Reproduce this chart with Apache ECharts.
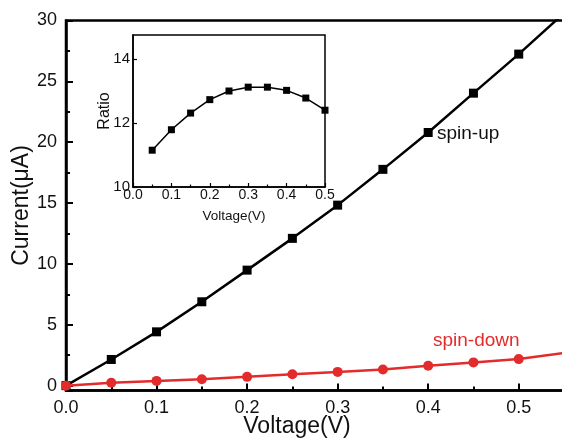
<!DOCTYPE html>
<html><head><meta charset="utf-8">
<script src="https://cdn.jsdelivr.net/npm/echarts@6/dist/echarts.min.js"></script>
<style>html,body{margin:0;padding:0;background:#fff}#c{width:562px;height:440px}</style>
</head><body><div id="c"></div>
<script>
// Main panel data
const voltage = [0, 0.05, 0.10, 0.15, 0.20, 0.25, 0.30, 0.35, 0.40, 0.45, 0.50];
const spinUp = [0, 2.15, 4.42, 6.89, 9.49, 12.1, 14.83, 17.77, 20.8, 24.03, 27.24];
const spinDown = [0, 0.23, 0.39, 0.53, 0.72, 0.94, 1.13, 1.33, 1.63, 1.91, 2.18];
// line continuation beyond last marker
const extVoltage = 0.55;
const spinUpEnd = 30.6;
const spinDownEnd = 2.68;
// Inset data
const insetVoltage = [0.05, 0.10, 0.15, 0.20, 0.25, 0.30, 0.35, 0.40, 0.45, 0.50];
const ratio = [11.15, 11.79, 12.31, 12.73, 13.0, 13.12, 13.12, 13.02, 12.78, 12.4];

const FONT = 'Liberation Sans, Arial, Helvetica, sans-serif';
const RED = '#e42b2b';

const upData = voltage.map((v, i) => [v, spinUp[i]]);
upData.push({ value: [extVoltage, spinUpEnd], symbol: 'none' });
const downData = voltage.map((v, i) => [v, spinDown[i]]);
downData.push({ value: [extVoltage, spinDownEnd], symbol: 'none' });
const ratioData = insetVoltage.map((v, i) => [v, ratio[i]]);

const chart = echarts.init(document.getElementById('c'), null, { renderer: 'canvas' });
chart.setOption({
  animation: false,
  backgroundColor: '#fff',
  textStyle: { fontFamily: FONT },
  grid: [
    { left: 66, top: 20.5, width: 498, height: 370, show: true, borderColor: '#000', borderWidth: 2.5,
      containLabel: false, outerBoundsMode: 'none' },
    { left: 133, top: 35, width: 192, height: 152, show: true, borderColor: '#000', borderWidth: 1.5,
      backgroundColor: '#fff', containLabel: false, outerBoundsMode: 'none' }
  ],
  xAxis: [
    {
      gridIndex: 0, type: 'value', position: 'bottom', min: 0, max: 0.55, interval: 0.1,
      axisLine: { show: true, onZero: false, lineStyle: { color: '#000', width: 2.5 } },
      axisTick: { show: true, inside: true, length: 7, lineStyle: { color: '#000', width: 2 } },
      splitLine: { show: false },
      axisLabel: { fontSize: 18, color: '#111', margin: 9, showMaxLabel: false, fontFamily: FONT,
        formatter: v => (Math.abs(v * 10 - Math.round(v * 10)) < 1e-6 && v <= 0.5 + 1e-9) ? v.toFixed(1) : '' },
      name: 'Voltage(V)', nameLocation: 'middle', nameGap: 25, nameMoveOverlap: false,
      nameTextStyle: { fontSize: 23, color: '#111', padding: [0, 36, 0, 0], fontFamily: FONT }
    },
    {
      gridIndex: 0, type: 'value', position: 'bottom', min: 0, max: 0.55, interval: 0.05,
      axisLine: { show: false, onZero: false },
      axisTick: { show: true, inside: true, length: 4, lineStyle: { color: '#000', width: 2 } },
      splitLine: { show: false },
      axisLabel: { show: false }
    },
    {
      gridIndex: 1, type: 'value', position: 'bottom', min: 0, max: 0.5, interval: 0.1,
      axisLine: { show: true, onZero: false, lineStyle: { color: '#000', width: 1.5 } },
      axisTick: { show: true, inside: true, length: 4, lineStyle: { color: '#000', width: 1.2 } },
      minorTick: { show: true, splitNumber: 2, length: 2.5, lineStyle: { color: '#000', width: 1.2 } },
      splitLine: { show: false }, minorSplitLine: { show: false },
      axisLabel: { fontSize: 14, color: '#111', margin: 1, fontFamily: FONT, formatter: v => v.toFixed(1) },
      name: 'Voltage(V)', nameLocation: 'middle', nameGap: 22, nameMoveOverlap: false,
      nameTextStyle: { fontSize: 13.5, color: '#111', padding: [0, 0, 0, 10], fontFamily: FONT }
    }
  ],
  yAxis: [
    {
      gridIndex: 0, type: 'value', min: -0.4, max: 30, splitNumber: 6,
      axisLine: { show: true, onZero: false, lineStyle: { color: '#000', width: 2.5 } },
      axisTick: { show: true, inside: true, length: 7, lineStyle: { color: '#000', width: 2 } },
      minorTick: { show: true, splitNumber: 2, length: 4, lineStyle: { color: '#000', width: 2 } },
      splitLine: { show: false }, minorSplitLine: { show: false },
      axisLabel: { fontSize: 18, color: '#111', margin: 9, showMinLabel: false, fontFamily: FONT,
        formatter: v => Number.isInteger(v) ? String(v) : '' },
      name: 'Current(μA)', nameLocation: 'middle', nameGap: 33, nameMoveOverlap: false,
      nameTextStyle: { fontSize: 23, color: '#111', fontFamily: FONT }
    },
    {
      gridIndex: 1, type: 'value', min: 10, max: 14.75, interval: 2,
      axisLine: { show: true, onZero: false, lineStyle: { color: '#000', width: 1.5 } },
      axisTick: { show: true, inside: true, length: 4, lineStyle: { color: '#000', width: 1.2 } },
      splitLine: { show: false },
      axisLabel: { fontSize: 15, color: '#111', margin: 3, showMaxLabel: false, fontFamily: FONT,
        formatter: v => Number.isInteger(v) ? String(v) : '' },
      name: 'Ratio', nameLocation: 'middle', nameGap: 20, nameMoveOverlap: false,
      nameTextStyle: { fontSize: 16, color: '#111', fontFamily: FONT }
    }
  ],
  series: [
    {
      name: 'spin-up', type: 'line', xAxisIndex: 0, yAxisIndex: 0, data: upData,
      symbol: 'rect', symbolSize: 9, clip: true,
      lineStyle: { color: '#000', width: 2.5 }, itemStyle: { color: '#000' }, z: 3
    },
    {
      name: 'spin-down', type: 'line', xAxisIndex: 0, yAxisIndex: 0, data: downData,
      symbol: 'circle', symbolSize: 10, clip: false,
      lineStyle: { color: RED, width: 2.5 }, itemStyle: { color: RED }, z: 4
    },
    {
      name: 'ratio', type: 'line', xAxisIndex: 2, yAxisIndex: 1, data: ratioData,
      symbol: 'rect', symbolSize: 7, clip: false,
      lineStyle: { color: '#000', width: 1.5 }, itemStyle: { color: '#000' }, z: 5
    }
  ],
  graphic: [
    { type: 'text', left: 437, top: 124, z: 10,
      style: { text: 'spin-up', fontSize: 19, fill: '#111', fontFamily: FONT } },
    { type: 'text', left: 433, top: 331, z: 10,
      style: { text: 'spin-down', fontSize: 19, fill: RED, fontFamily: FONT } }
  ]
});
</script>
</body></html>
